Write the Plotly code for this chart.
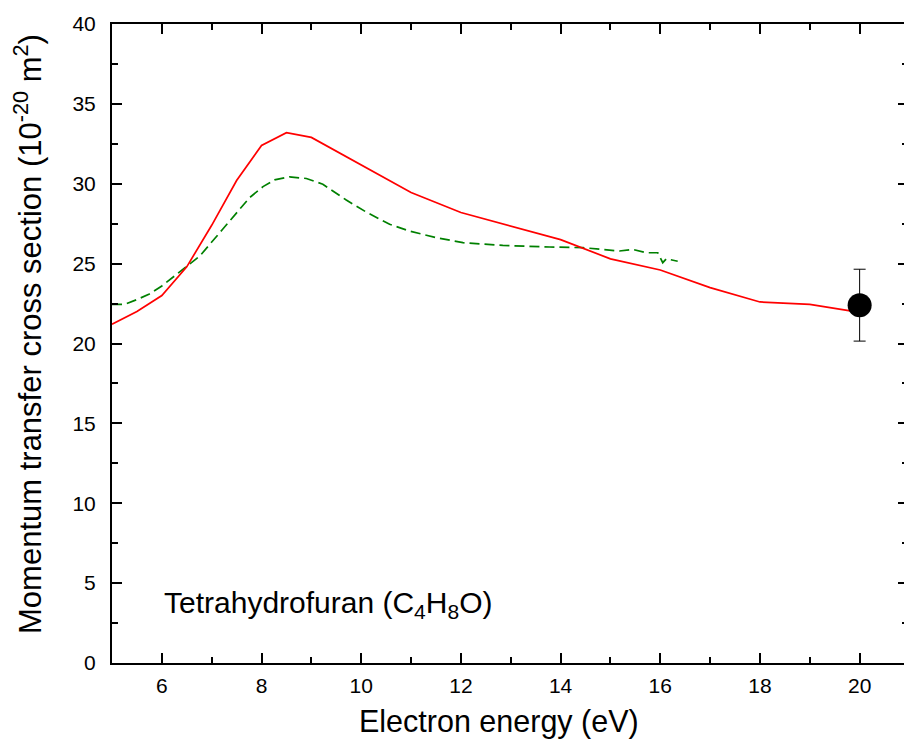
import plotly.graph_objects as go

# Red solid curve
red_x = [5, 5.5, 6, 6.5, 7, 7.5, 8, 8.5, 9, 10, 11, 12, 13, 14, 15, 16, 17, 18, 19, 20]
red_y = [21.2, 22.0, 23.0, 24.8, 27.4, 30.2, 32.4, 33.2, 32.9, 31.15, 29.45, 28.2, 27.35, 26.5,
         25.3, 24.6, 23.5, 22.6, 22.45, 21.95]

# Green dashed curve
green_x = [5.0, 5.25, 5.5, 5.75, 6.0, 6.42, 6.76, 7.22, 7.76, 8.03, 8.26, 8.56, 8.9, 9.23, 9.7,
           10.1, 10.57, 10.97, 11.5, 12.04, 12.84, 13.78, 14.45, 15.18, 15.45, 15.72, 15.95,
           16.05, 16.12, 16.35]
green_y = [22.45, 22.45, 22.75, 23.1, 23.6, 24.64, 25.47, 27.15, 29.13, 29.82, 30.24, 30.43,
           30.33, 29.97, 28.98, 28.23, 27.46, 27.04, 26.63, 26.31, 26.14, 26.04, 26.0, 25.79,
           25.89, 25.68, 25.68, 25.06, 25.3, 25.15]

# Single experimental point
pt_x = [20]
pt_y = [22.4]
pt_err = [2.25]

FONT = "Arial, Liberation Sans, Helvetica, sans-serif"
Y_TICKS = [0, 5, 10, 15, 20, 25, 30, 35, 40]
Y_MINOR = [2.5, 7.5, 12.5, 17.5, 22.5, 27.5, 32.5, 37.5]

fig = go.Figure()
fig.add_trace(go.Scatter(x=green_x, y=green_y, mode="lines",
                         line=dict(color="#008000", width=1.7, dash="10px,5px"),
                         showlegend=False, hoverinfo="skip"))
fig.add_trace(go.Scatter(x=red_x, y=red_y, mode="lines",
                         line=dict(color="#ff0000", width=1.7),
                         showlegend=False, hoverinfo="skip"))
fig.add_trace(go.Scatter(x=pt_x, y=pt_y, mode="markers", yaxis="y2",
                         marker=dict(color="black", size=24),
                         error_y=dict(type="data", array=pt_err, color="black",
                                      thickness=1, width=6),
                         showlegend=False, hoverinfo="skip"))

axis_common = dict(
    showgrid=False, zeroline=False,
    showline=True, linecolor="black", linewidth=2,
    ticks="inside", ticklen=10, tickwidth=2, tickcolor="black",
    tickfont=dict(family=FONT, size=21, color="black"),
)

fig.update_layout(
    width=904, height=746,
    margin=dict(l=112, r=0, t=24, b=83),
    paper_bgcolor="white", plot_bgcolor="white",
    font=dict(family=FONT, color="black"),
    xaxis=dict(range=[5, 20.89], tickmode="array", tickvals=[6, 8, 10, 12, 14, 16, 18, 20],
               mirror="ticks",
               minor=dict(tickmode="array", tickvals=[5, 7, 9, 11, 13, 15, 17, 19],
                          ticks="inside", ticklen=6, tickwidth=2, tickcolor="black"),
               ticklabelstandoff=3,
               **axis_common),
    yaxis=dict(range=[0, 40], tickmode="array", tickvals=Y_TICKS,
               minor=dict(tickmode="array", tickvals=Y_MINOR,
                          ticks="inside", ticklen=6, tickwidth=2, tickcolor="black"),
               ticklabelstandoff=10,
               **axis_common),
    yaxis2=dict(range=[0, 40], overlaying="y", side="right", anchor="x",
                showgrid=False, zeroline=False, showline=False, showticklabels=False,
                tickmode="array", tickvals=Y_TICKS,
                ticks="inside", ticklen=6, tickwidth=2, tickcolor="black",
                minor=dict(tickmode="array", tickvals=Y_MINOR,
                           ticks="inside", ticklen=2, tickwidth=2, tickcolor="black")),
    annotations=[
        dict(text="Tetrahydrofuran (C<sub>4</sub>H<sub>8</sub>O)", x=6.0, y=3.65,
             xref="x", yref="y", xanchor="left", yanchor="middle", showarrow=False,
             font=dict(family=FONT, size=30, color="black")),
        dict(text="Electron energy (eV)", x=0.489, y=-0.092, xref="paper", yref="paper",
             xanchor="center", yanchor="middle", showarrow=False,
             font=dict(family=FONT, size=30.5, color="black")),
        dict(text="Momentum transfer cross section (10<sup>-20</sup> m<sup>2</sup>)",
             x=-0.106, y=0.515, xref="paper", yref="paper", textangle=-90,
             xanchor="center", yanchor="middle", showarrow=False,
             font=dict(family=FONT, size=31, color="black")),
    ],
)

fig.write_html("out.html", config={"displayModeBar": False},
               post_script="document.body.style.margin='0';document.body.style.overflow='hidden';")
